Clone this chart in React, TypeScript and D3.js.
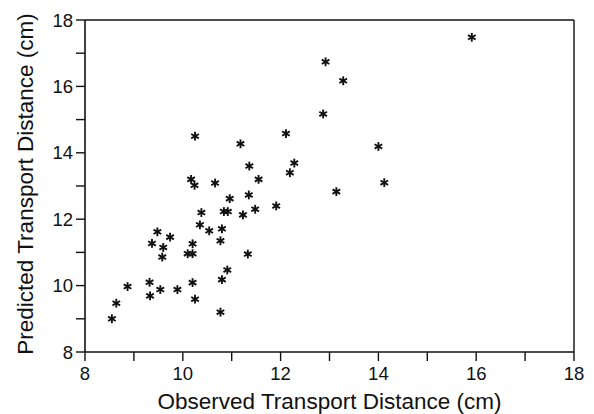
import React from "react";
import * as d3 from "d3";

const observed = [
  8.55, 8.64, 8.87, 9.32, 9.33, 9.37, 9.48, 9.54, 9.58, 9.6,
  9.74, 9.89, 10.1, 10.2, 10.2, 10.2, 10.17, 10.24, 10.25, 10.25,
  10.35, 10.38, 10.54, 10.66, 10.77, 10.77, 10.8, 10.8, 10.84, 10.91,
  10.92, 10.96, 11.18, 11.23, 11.33, 11.35, 11.36, 11.48, 11.55, 11.91,
  12.11, 12.19, 12.28, 12.87, 12.92, 13.14, 13.28, 14.0, 14.12, 15.91,
];
const predicted = [
  9.0, 9.47, 9.97, 10.1, 9.69, 11.27, 11.62, 9.88, 10.86, 11.15,
  11.46, 9.88, 10.96, 10.96, 10.09, 11.26, 13.2, 13.02, 14.5, 9.59,
  11.83, 12.2, 11.65, 13.09, 11.35, 9.2, 11.71, 10.18, 12.23, 10.47,
  12.23, 12.62, 14.27, 12.13, 10.95, 12.73, 13.6, 12.3, 13.2, 12.4,
  14.58, 13.4, 13.69, 15.17, 16.74, 12.83, 16.17, 14.19, 13.1, 17.48,
];
const xMajorTicks = [8, 10, 12, 14, 16, 18];
const xMinorTicks = [9, 11, 13, 15, 17];
const yMajorTicks = [8, 10, 12, 14, 16, 18];
const yMinorTicks = [9, 11, 13, 15, 17];
const xTitle = "Observed Transport Distance (cm)";
const yTitle = "Predicted Transport Distance (cm)";

const W = 594;
const H = 414;
const left = 85;
const right = 574;
const top = 20;
const bottom = 352;
const font = "'Liberation Sans', Arial, Helvetica, sans-serif";

export default function App() {
  const x = d3.scaleLinear().domain([8, 18]).range([left, right]);
  const y = d3.scaleLinear().domain([8, 18]).range([bottom, top]);
  const tickLen = 9;
  const r = 4.4;
  const angles = [90, 30, 150].map((a) => (a * Math.PI) / 180);

  return (
    <svg
      width={W}
      height={H}
      style={{ position: "absolute", left: 0, top: 0, background: "#fff" }}
      fontFamily={font}
    >
      <rect x={0} y={0} width={W} height={H} fill="#fff" />
      {/* frame */}
      <line x1={left} x2={right} y1={top} y2={top} stroke="#111" strokeWidth={1.4} />
      <line x1={right} x2={right} y1={top} y2={bottom} stroke="#111" strokeWidth={1.4} />
      <line x1={left} x2={right} y1={bottom} y2={bottom} stroke="#111" strokeWidth={1.6} />
      <line x1={left} x2={left} y1={top} y2={bottom} stroke="#111" strokeWidth={1.6} />
      {/* x ticks */}
      {[...xMajorTicks, ...xMinorTicks].map((t) => (
        <line key={"xt" + t} x1={x(t)} x2={x(t)} y1={bottom} y2={bottom + tickLen} stroke="#111" strokeWidth={1.4} />
      ))}
      {xMajorTicks.map((t) => (
        <text key={"xl" + t} x={x(t)} y={380} textAnchor="middle" fontSize={18.5} fill="#111">
          {t}
        </text>
      ))}
      {/* y ticks */}
      {[...yMajorTicks, ...yMinorTicks].map((t) => (
        <line key={"yt" + t} x1={left - tickLen} x2={left} y1={y(t)} y2={y(t)} stroke="#111" strokeWidth={1.4} />
      ))}
      {yMajorTicks.map((t) => (
        <text key={"yl" + t} x={73} y={y(t)} dy="0.36em" textAnchor="end" fontSize={18.5} fill="#111">
          {t}
        </text>
      ))}
      {/* titles */}
      <text x={(left + right) / 2} y={409} textAnchor="middle" fontSize={22.5} fill="#111">
        {xTitle}
      </text>
      <text
        transform={`translate(33, ${(top + bottom) / 2 - 2}) rotate(-90)`}
        textAnchor="middle"
        fontSize={22.5}
        fill="#111"
      >
        {yTitle}
      </text>
      {/* points */}
      {observed.map((o, i) => {
        const cx = x(o);
        const cy = y(predicted[i]);
        return (
          <g key={"p" + i}>
            {angles.map((a, j) => (
              <line
                key={j}
                x1={cx - r * Math.cos(a)}
                y1={cy - r * Math.sin(a)}
                x2={cx + r * Math.cos(a)}
                y2={cy + r * Math.sin(a)}
                stroke="#111"
                strokeWidth={1.9}
              />
            ))}
          </g>
        );
      })}
    </svg>
  );
}
